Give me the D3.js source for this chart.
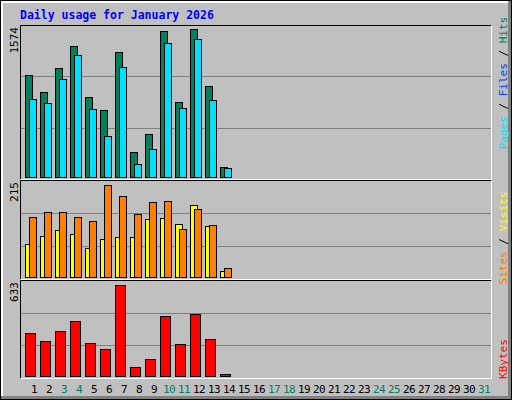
<!DOCTYPE html>
<html><head><meta charset="utf-8">
<script src="https://cdn.jsdelivr.net/npm/d3@7"></script>
<style>body{margin:0;background:#fff}</style>
</head><body>
<script>
// values
var days = d3.range(1, 32);
var weekend = [3, 4, 10, 11, 17, 18, 24, 25, 31];
var hits   = [1084, 903, 1159, 1393, 850, 711, 1329, 263, 455, 1553, 796, 1574, 967, 103];
var pages  = [828, 786, 1041, 1297, 722, 434, 1169, 135, 295, 1425, 732, 1468, 818, 93];
var visits = [78, 96, 110, 101, 68, 89, 94, 94, 136, 138, 124, 168, 120, 15];
var sites  = [141, 152, 152, 141, 131, 215, 189, 148, 175, 178, 113, 159, 122, 22];
var kbytes = [300, 245, 314, 383, 231, 189, 633, 64, 120, 418, 224, 432, 259, 16];

var W = 512, H = 400, FONT = "'DejaVu Sans Mono',monospace";
var svg = d3.select("body").append("svg").attr("width", W).attr("height", H)
    .style("font-family", FONT);

// background + bevel
svg.append("rect").attr("x", 0).attr("y", 0).attr("width", W).attr("height", H).attr("fill", "#000");
svg.append("rect").attr("x", 1).attr("y", 1).attr("width", W - 2).attr("height", H - 2).attr("fill", "#808080");
svg.append("rect").attr("x", 1).attr("y", 1).attr("width", W - 5).attr("height", H - 5).attr("fill", "#fff");
svg.append("rect").attr("x", 3).attr("y", 3).attr("width", W - 7).attr("height", H - 7).attr("fill", "#c0c0c0");

svg.append("text").attr("x", 20).attr("y", 19).text("Daily usage for January 2026")
    .attr("fill", "#0000ff").attr("font-size", 11.5).attr("font-weight", "bold");

var x = d3.scaleLinear().domain([1, 31]).range([34, 484]);

// panels: top, bottom of bar area, max-pixel height
var panels = [
    {top: 25, base: 177, hmax: 148, max: 1574, series: [[hits, "#00805c", -4, 7], [pages, "#00e0ff", 0, 7]],
     legend: [["Pages", "#00e0ff"], [" / ", "#000"], ["Files", "#0040ff"], [" / ", "#000"], ["Hits", "#00805c"]], ly: 83},
    {top: 180, base: 277, hmax: 92, max: 215, series: [[visits, "#ffff00", -4, 7], [sites, "#ff8000", 0, 7]],
     legend: [["Sites", "#ff8000"], [" / ", "#000"], ["Visits", "#ffff00"]], ly: 238},
    {top: 280, base: 376, hmax: 91.3, max: 633, series: [[kbytes, "#ff0000", -4, 10]],
     legend: [["KBytes", "#ff0000"]], ly: 359}
];

panels.forEach(function(p) {
    var y = d3.scaleLinear().domain([0, p.max]).range([p.base, p.base - p.hmax]);
    var h = p.base - p.top + 2;
    svg.append("rect").attr("x", 20.5).attr("y", p.top + 0.5).attr("width", 471).attr("height", h)
        .attr("fill", "#c0c0c0").attr("stroke", "none");
    [1, 2].forEach(function(k) {
        var gy = Math.round(p.top + h * k / 3) + 0.5;
        svg.append("line").attr("x1", 21).attr("x2", 491).attr("y1", gy).attr("y2", gy)
            .attr("stroke", "#808080");
    });
    // frame: black top/left, white bottom/right
    svg.append("path").attr("d", "M20.5," + (p.top + h + 0.5) + "V" + (p.top + 0.5) + "H491.5")
        .attr("fill", "none").attr("stroke", "#000");
    svg.append("path").attr("d", "M20.5," + (p.top + h + 0.5) + "H491.5V" + (p.top + 0.5))
        .attr("fill", "none").attr("stroke", "#fff");
    p.series.forEach(function(s) {
        svg.append("g").selectAll("rect").data(s[0]).enter().append("rect")
            .attr("x", function(d, i) { return x(i + 1) + s[2] - 5 + 0.5; })
            .attr("y", function(d) { return Math.round(y(d)) + 0.5; })
            .attr("width", s[3])
            .attr("height", function(d) { return p.base - Math.round(y(d)); })
            .attr("fill", s[1]).attr("stroke", "#000");
    });
    svg.append("text").attr("transform", "translate(18," + (p.top + 2) + ") rotate(-90)")
        .attr("text-anchor", "end").attr("font-size", 11).attr("fill", "#000").text(p.max);
    var t = svg.append("text").attr("transform", "translate(503," + p.ly + ") rotate(-90)")
        .attr("text-anchor", "middle").attr("dominant-baseline", "central").attr("font-size", 11);
    p.legend.forEach(function(l) { t.append("tspan").attr("fill", l[1]).text(l[0]); });
});

svg.append("g").selectAll("text").data(days).enter().append("text")
    .attr("x", function(d) { return x(d); }).attr("y", 393)
    .attr("text-anchor", "middle").attr("font-size", 11).attr("letter-spacing", -0.5)
    .attr("fill", function(d) { return weekend.indexOf(d) >= 0 ? "#00805c" : "#000"; })
    .text(function(d) { return d; });
</script>
</body></html>
